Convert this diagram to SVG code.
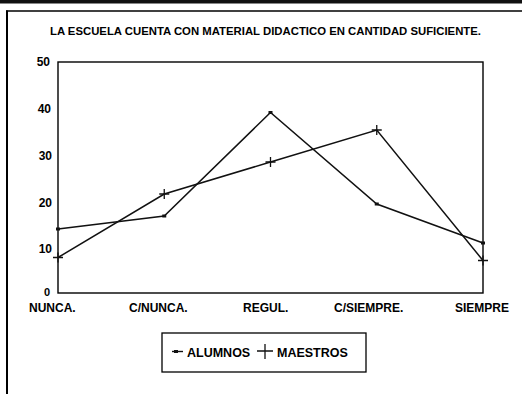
<svg xmlns="http://www.w3.org/2000/svg" width="522" height="394" viewBox="0 0 522 394">
<style>
  .t { font-family: "Liberation Sans", Arial, sans-serif; font-weight: bold; fill: #000; }
  .frame { fill: none; stroke: #000; }
  .series { fill: none; stroke: #111; stroke-width: 1.5; stroke-linejoin: miter; }
  .plus { stroke: #111; stroke-width: 1.3; fill: none; }
  .dot { fill: #111; }
</style>
<defs>
  <path id="plusm" d="M-5,0H5M0,-5V5" class="plus"/>
</defs>
<rect x="0" y="0" width="522" height="394" fill="#fff"/>
<g id="page-frame">
  <rect x="0" y="0" width="522" height="3.5" fill="#111"/>
  <line x1="6" y1="11" x2="522" y2="11" class="frame" stroke-width="1.6"/>
  <line x1="7" y1="10.5" x2="7" y2="394" class="frame" stroke-width="2"/>
</g>
<g id="title">
  <text class="t" x="50" y="35" font-size="10" textLength="431" lengthAdjust="spacingAndGlyphs">LA ESCUELA CUENTA CON MATERIAL DIDACTICO EN CANTIDAD SUFICIENTE.</text>
</g>
<g id="plot-area">
  <rect x="58" y="62" width="425" height="231" class="frame" stroke-width="1.4"/>
</g>
<g id="y-axis-labels" class="t" font-size="12" text-anchor="end">
  <text x="50" y="66">50</text>
  <text x="51" y="113">40</text>
  <text x="52" y="160">30</text>
  <text x="52" y="207">20</text>
  <text x="52" y="253">10</text>
  <text x="50" y="296" font-size="11">0</text>
</g>
<g id="x-axis-labels" class="t" font-size="12">
  <text x="29" y="312">NUNCA.</text>
  <text x="129" y="312">C/NUNCA.</text>
  <text x="243" y="312">REGUL.</text>
  <text x="334" y="312">C/SIEMPRE.</text>
  <text x="455" y="312">SIEMPRE</text>
</g>
<g id="connectors">
  <polyline id="alumnos" class="series" points="58,229 164.25,216 270.5,112.5 376.75,204 483,243"/>
  <polyline id="maestros" class="series" points="58,257.5 164.25,194 270.5,162 376.75,130 483,260.5"/>
</g>
<g id="alumnos-markers">
  <rect class="dot" x="56" y="227.5" width="4" height="3"/>
  <rect class="dot" x="162.25" y="214.5" width="4" height="3"/>
  <rect class="dot" x="268.5" y="111" width="4" height="3"/>
  <rect class="dot" x="374.75" y="202.5" width="4" height="3"/>
  <rect class="dot" x="481" y="241.5" width="4" height="3"/>
</g>
<g id="maestros-markers">
  <use href="#plusm" x="58" y="257.5"/>
  <use href="#plusm" x="164.25" y="194"/>
  <use href="#plusm" x="270.5" y="162"/>
  <use href="#plusm" x="376.75" y="130"/>
  <use href="#plusm" x="483" y="260.5"/>
</g>
<g id="legend">
  <rect x="162" y="333" width="204" height="39" class="frame" stroke-width="1.3"/>
  <line x1="172" y1="351.5" x2="183" y2="351.5" stroke="#111" stroke-width="1.4"/>
  <rect class="dot" x="174" y="350" width="4" height="3"/>
  <text class="t" x="187" y="357" font-size="12.5">ALUMNOS</text>
  <path d="M257,351H273M265,344V359" class="plus" stroke-width="1.4"/>
  <text class="t" x="277" y="357" font-size="12.5">MAESTROS</text>
</g>
</svg>
